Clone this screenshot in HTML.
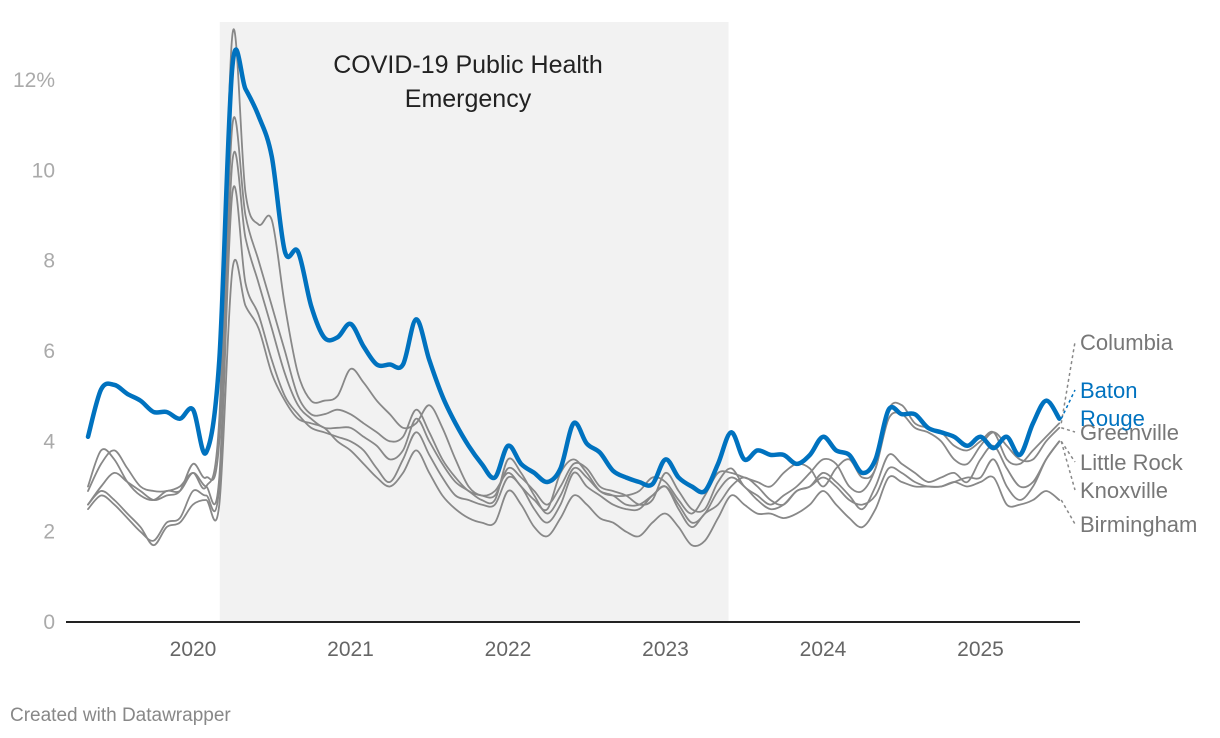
<!DOCTYPE html>
<html><head><meta charset="utf-8"><style>
body{margin:0;background:#fff;font-family:"Liberation Sans",sans-serif;}
#wrap{position:relative;width:1220px;height:738px;overflow:hidden;}
</style></head><body>
<div id="wrap">
<svg id="chart" width="1220" height="738"></svg>
</div>
<script>
const startYear = 2019, startMonth = 4; // May 2019
const yTicks = [0,2,4,6,8,10,12];
const yTickLabels = ["0","2","4","6","8","10","12%"];
const xTicks = [2020,2021,2022,2023,2024,2025];
const shadeRange = [2020.17, 2023.4];
const seriesNames = ["Columbia","Greenville","Little Rock","Knoxville","Birmingham","Baton Rouge"];
const columbia = [2.9,3.5,3.8,3.4,3.0,2.9,2.9,3.0,
 3.3,3.0,4.5,13.0,9.5,8.8,8.9,7.0,5.5,4.9,4.9,5.0,
 5.6,5.3,4.9,4.6,4.3,4.4,4.8,4.3,3.6,3.0,2.8,2.9,
 3.3,3.0,2.7,2.5,3.3,3.6,3.3,2.9,2.8,2.8,2.9,3.2,
 3.1,2.7,2.4,2.8,3.3,3.3,3.2,3.1,3.0,3.3,3.5,3.4,
 3.0,3.4,3.6,3.2,3.4,4.7,4.8,4.4,4.3,4.2,3.9,3.8,
 4.0,4.2,3.6,3.5,3.8,4.1,4.4];
const greenville = [2.6,3.0,3.3,3.1,2.9,2.7,2.8,2.9,
 3.5,3.2,4.0,11.0,9.0,8.0,7.0,6.0,5.0,4.6,4.6,4.7,
 4.6,4.4,4.2,4.0,4.1,4.7,4.2,3.6,3.2,2.9,2.8,2.8,
 3.4,3.2,2.9,2.6,3.0,3.5,3.4,3.0,2.9,2.8,2.6,2.7,
 3.3,2.9,2.5,2.5,3.1,3.4,3.0,2.8,2.6,2.8,3.0,3.3,
 3.6,3.5,3.0,2.9,3.4,4.5,4.6,4.3,4.2,4.0,3.6,3.5,
 3.9,4.2,3.9,3.6,3.6,4.0,4.3];
const littleRock = [3.0,3.8,3.6,3.1,2.8,2.7,2.9,2.9,
 3.3,3.0,3.2,10.2,8.5,7.5,6.5,5.5,4.8,4.5,4.3,4.3,
 4.3,4.1,3.9,3.6,3.8,4.5,4.0,3.5,3.1,2.9,2.7,2.7,
 3.6,3.3,2.8,2.4,2.8,3.4,3.2,2.9,2.8,2.6,2.6,2.8,
 3.0,2.6,2.2,2.4,2.9,3.2,3.0,2.7,2.5,2.6,2.9,3.0,
 3.3,3.1,2.8,2.5,3.0,3.7,3.5,3.3,3.1,3.2,3.3,3.1,
 3.6,3.9,3.4,3.0,3.1,3.6,4.0];
const knoxville = [2.5,2.8,2.6,2.3,2.0,1.8,2.2,2.3,
 2.9,2.8,3.0,9.5,7.5,6.8,5.8,5.0,4.6,4.3,4.2,4.1,
 4.0,3.8,3.4,3.1,3.6,4.2,3.7,3.2,2.8,2.7,2.6,2.6,
 3.2,3.0,2.5,2.2,2.6,3.3,3.0,2.8,2.6,2.5,2.5,2.8,
 3.0,2.5,2.1,2.4,2.6,3.0,3.2,3.0,2.7,2.6,2.9,3.0,
 3.2,3.0,2.7,2.6,2.8,3.4,3.3,3.1,3.0,3.0,3.1,3.2,
 3.2,3.6,3.0,2.7,3.0,3.6,4.0];
const birmingham = [2.6,2.9,2.7,2.4,2.1,1.7,2.1,2.2,
 2.6,2.7,2.6,7.8,7.0,6.5,5.5,4.9,4.5,4.4,4.3,4.0,
 3.8,3.5,3.2,3.0,3.3,3.8,3.3,2.8,2.5,2.3,2.2,2.2,
 2.9,2.6,2.1,1.9,2.3,2.8,2.6,2.3,2.2,2.0,1.9,2.2,
 2.4,2.1,1.7,1.8,2.3,2.8,2.6,2.4,2.4,2.3,2.4,2.6,
 2.9,2.6,2.3,2.1,2.5,3.2,3.1,3.0,3.0,3.0,3.1,3.0,
 3.1,3.2,2.6,2.6,2.7,2.9,2.7];
const batonRouge = [4.1,5.15,5.25,5.05,4.9,4.65,4.65,4.5,
 4.7,3.75,5.8,12.3,11.8,11.2,10.3,8.2,8.2,7.0,6.3,6.3,
 6.6,6.1,5.7,5.7,5.7,6.7,5.8,5.0,4.4,3.9,3.5,3.2,
 3.9,3.5,3.3,3.1,3.4,4.4,3.95,3.75,3.35,3.2,3.1,3.05,
 3.6,3.2,3.0,2.9,3.5,4.2,3.6,3.8,3.7,3.7,3.5,3.7,
 4.1,3.8,3.7,3.3,3.6,4.7,4.6,4.6,4.3,4.2,4.1,3.9,
 4.1,3.85,4.1,3.7,4.4,4.9,4.5];

const NS="http://www.w3.org/2000/svg";
const svg=document.getElementById('chart');
const xScale=t=>193+(t-2020)*157.5;
const yScale=v=>622-v*45.17;
const idxToT=i=>startYear+(startMonth+i)/12;
function mk(tag,attrs,parent){const e=document.createElementNS(NS,tag);for(const k in attrs)e.setAttribute(k,attrs[k]);(parent||svg).appendChild(e);return e;}

const shade=mk('rect',{x:xScale(shadeRange[0]),y:22,width:xScale(shadeRange[1])-xScale(shadeRange[0]),height:600,fill:'#f2f2f2'});


const ann=mk('text',{x:468,y:73,'text-anchor':'middle','font-size':25,fill:'#222'});


ann.textContent='COVID-19 Public Health';
const ann2=mk('text',{x:468,y:107,'text-anchor':'middle','font-size':25,fill:'#222'});


ann2.textContent='Emergency';

yTicks.forEach((v,i)=>{
 const t=mk('text',{x:55,y:yScale(v)+7,'text-anchor':'end','font-size':21,fill:'#aaa'});
 
 
 t.textContent=yTickLabels[i];
});
xTicks.forEach(y=>{
 const t=mk('text',{x:xScale(y),y:656,'text-anchor':'middle','font-size':21,fill:'#666'});
 
 
 t.textContent=String(y);
});

function smoothPath(pts){
 let d=`M${pts[0][0]},${pts[0][1]}`;
 for(let i=0;i<pts.length-1;i++){
  const p0=pts[i-1]||pts[i],p1=pts[i],p2=pts[i+1],p3=pts[i+2]||p2;
  const c1=[p1[0]+(p2[0]-p0[0])/6,p1[1]+(p2[1]-p0[1])/6];
  const c2=[p2[0]-(p3[0]-p1[0])/6,p2[1]-(p3[1]-p1[1])/6];
  d+=` C${c1[0].toFixed(1)},${c1[1].toFixed(1)} ${c2[0].toFixed(1)},${c2[1].toFixed(1)} ${p2[0].toFixed(1)},${p2[1].toFixed(1)}`;
 }
 return d;
}
const allSeries=[columbia,greenville,littleRock,knoxville,birmingham,batonRouge];
const labelY=[350,440,470,498,532,398];
allSeries.forEach((s,k)=>{
 const blue=k===5;
 const pts=s.map((v,i)=>[xScale(idxToT(i)),yScale(v)]);
 const p=mk('path',{d:smoothPath(pts),fill:'none',stroke:blue?'#0072bf':'#888',
  'stroke-width':blue?4.5:1.8,'stroke-linejoin':'round','stroke-linecap':'round'});
 
 
 const last=pts[pts.length-1];
 const ld=mk('line',{x1:last[0]+2,y1:last[1],x2:1075,y2:labelY[k]-8,stroke:blue?'#0072bf':'#888','stroke-width':1.5,'stroke-dasharray':'3,3'});
 
 
});
allSeries.forEach((s,k)=>{
 const blue=k===5;
 const t=mk('text',{x:1080,y:labelY[k],'font-size':22,fill:blue?'#0072bf':'#777'});
 
 
 if(blue){t.textContent='Baton';
  const t2=mk('text',{x:1080,y:labelY[k]+28,'font-size':22,fill:'#0072bf'});
  
  
  t2.textContent='Rouge';}
 else t.textContent=seriesNames[k];
});
const ax=mk('line',{x1:66,y1:622,x2:1080,y2:622,stroke:'#222','stroke-width':2});


const f=mk('text',{x:10,y:721,'font-size':19,fill:'#888'});


f.textContent='Created with Datawrapper';
</script>
</body></html>
